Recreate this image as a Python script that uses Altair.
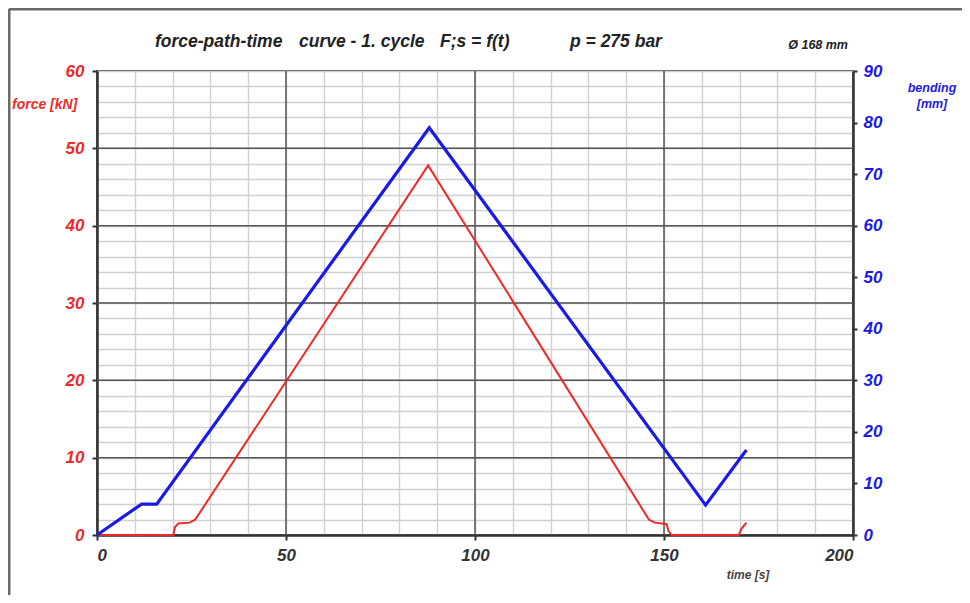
import altair as alt
import pandas as pd

# ---- data ----
force_t = [0, 20.2, 20.6, 21.5, 24.5, 26.0, 87.6, 146.0, 147.5, 149.5, 150.7, 151.2, 152.0, 169.8, 170.5, 171.8]
force_kN = [0, 0, 1.0, 1.5, 1.6, 2.0, 47.8, 2.0, 1.6, 1.5, 1.4, 0.5, 0, 0, 0.8, 1.6]

bend_t = [0, 11.8, 15.8, 87.9, 161.0, 171.8]
bend_mm = [0, 6.0, 6.0, 79.0, 5.8, 16.5]

x_ticks = list(range(0, 201, 10))
x_major = [50, 100, 150]
force_ticks = list(range(0, 61, 2))
force_major = [10, 20, 30, 40, 50]
bend_ticks = list(range(0, 91, 10))

title_parts = ["force-path-time", "curve - 1. cycle", "F;s = f(t)", "p = 275 bar"]
diameter = "Ø 168 mm"

force_df = pd.DataFrame({"t": force_t, "force": force_kN})
bend_df = pd.DataFrame({"t": bend_t, "bend": bend_mm})

FONT = "Liberation Sans"
RED = "#f02828"
BLUE = "#1a1ae6"
MAJOR = "#555555"
MINOR = "#d0d0d0"

x_scale = alt.Scale(domain=[0, 200], nice=False)
f_scale = alt.Scale(domain=[0, 60], nice=False)
b_scale = alt.Scale(domain=[0, 90], nice=False)

x_axis = alt.Axis(
    values=x_ticks, title=None, grid=True, gridColor=MINOR, gridWidth=1.4,
    labelExpr="datum.value % 50 === 0 ? datum.label : ''", labelOverlap=False,
    tickColor={"condition": {"test": "datum.value % 50 === 0", "value": "#333333"}, "value": "transparent"},
    tickSize=5, tickWidth=2,
    domainColor="#333333", domainWidth=2.5,
    labelFont=FONT, labelFontSize=17, labelFontStyle="italic", labelFontWeight="bold",
    labelColor="#333333", labelPadding=7,
)

force_axis = alt.Axis(
    values=force_ticks, title=None, grid=True, orient="left", gridColor=MINOR, gridWidth=1.4,
    labelExpr="datum.value % 10 === 0 ? datum.label : ''", labelOverlap=False,
    tickColor={"condition": {"test": "datum.value % 10 === 0", "value": "#333333"}, "value": "transparent"},
    tickSize=5, tickWidth=2,
    domainColor="#333333", domainWidth=2.5,
    labelFont=FONT, labelFontSize=17, labelFontStyle="italic", labelFontWeight="bold",
    labelColor=RED, labelPadding=8,
)

bend_axis = alt.Axis(
    values=bend_ticks, title=None, grid=False, orient="right", labelOverlap=False,
    tickColor="#333333", tickSize=4, tickWidth=2,
    domainColor="#333333", domainWidth=2.5,
    labelFont=FONT, labelFontSize=17, labelFontStyle="italic", labelFontWeight="bold",
    labelColor=BLUE, labelPadding=6,
)

vmajor = alt.Chart(pd.DataFrame({"t": x_major})).mark_rule(color=MAJOR, strokeWidth=1.5).encode(
    x=alt.X("t:Q", scale=x_scale, axis=x_axis)
)
hmajor = alt.Chart(pd.DataFrame({"f": force_major})).mark_rule(color=MAJOR, strokeWidth=1.5).encode(
    y=alt.Y("f:Q", scale=f_scale, axis=force_axis)
)

force_line = alt.Chart(force_df).mark_line(color=RED, strokeWidth=2).encode(
    x=alt.X("t:Q", scale=x_scale, axis=x_axis),
    y=alt.Y("force:Q", scale=f_scale, axis=force_axis),
)

bend_line = alt.Chart(bend_df).mark_line(color=BLUE, strokeWidth=3.2).encode(
    x=alt.X("t:Q", scale=x_scale, axis=x_axis),
    y=alt.Y("bend:Q", scale=b_scale, axis=bend_axis),
)

one = pd.DataFrame({"a": [0]})


def label(text, x, y, size=14, color="#222222", align="left"):
    return alt.Chart(one).mark_text(
        x=x, y=y, text=text, font=FONT, fontSize=size, fontStyle="italic",
        fontWeight="bold", color=color, align=align, baseline="middle",
    )


texts = [
    label(title_parts[0], 58, -29, 17.5),
    label(title_parts[1], 202, -29, 17.5),
    label(title_parts[2], 343, -29, 17.5),
    label(title_parts[3], 473, -29, 17.5),
    label(diameter, 751, -26, 12.5, "#222222", "right"),
    label("force [kN]", -85, 34, 14, RED),
    label("bending", 835, 17, 12.5, BLUE, "center"),
    label("[mm]", 835, 33, 12.5, BLUE, "center"),
    label("time [s]", 651, 40 + 464, 12, "#444444", "center"),
]

frame_left = alt.Chart(one).mark_rule(color="#6a6a6a", strokeWidth=3).encode(
    x=alt.value(-88), y=alt.value(-62), y2=alt.value(600)
)
frame_top = alt.Chart(one).mark_rule(color="#6a6a6a", strokeWidth=3).encode(
    x=alt.value(-88), x2=alt.value(900), y=alt.value(-62)
)

left = alt.layer(vmajor, hmajor, force_line)
lines = alt.layer(left, bend_line).resolve_scale(y="independent")

chart = alt.layer(lines, frame_left, frame_top, *texts).properties(
    width=756, height=464,
    autosize=alt.AutoSizeParams(type="none"),
    padding={"left": 89, "top": 63, "right": 109, "bottom": 60},
    background="white",
).configure_view(stroke="#555555", strokeWidth=2)

chart.save("out.html", embed_options={"renderer": "svg", "actions": False})
